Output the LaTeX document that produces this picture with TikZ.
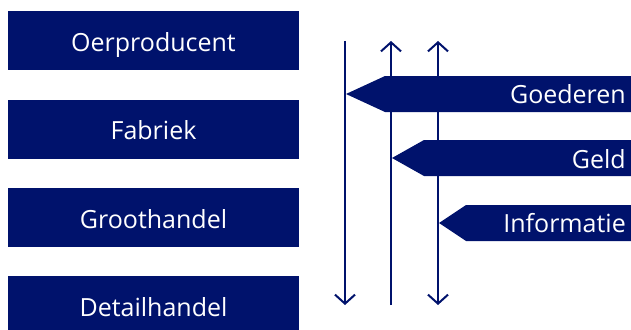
\documentclass[tikz,border=0pt]{standalone}
\usepackage{fontspec}
\setmainfont{Open Sans}
\usetikzlibrary{arrows.meta}
\definecolor{navy}{RGB}{0,18,108}
\begin{document}
\begin{tikzpicture}[x=1pt,y=-1pt,
  box/.style={fill=navy,minimum width=291pt,minimum height=59pt,inner sep=0pt},
  txt/.style={text=white,anchor=base,inner sep=0pt,font=\fontsize{25}{30}\selectfont},
  lbl/.style={text=white,anchor=base east,inner sep=0pt,font=\fontsize{25}{30}\selectfont},
  flow/.style={draw=navy,line width=2pt},
  barb/.tip={Straight Barb[length=9pt,width=20pt,line width=2pt]}]
\useasboundingbox (0,0) rectangle (631,329);
\node[box] (oer) at (153.5,40.5) {};
\node[box] (fab) at (153.5,129) {};
\node[box] (groot) at (153.5,217.5) {};
\node[box] (detail) at (153.5,305.5) {};
\node[txt] (oert) at (153.5,52) {Oerproducent};
\node[txt] (fabt) at (153.5,139.5) {Fabriek};
\node[txt] (groott) at (153.5,228) {Groothandel};
\node[txt] (detailt) at (153.5,316) {Detailhandel};
% arrow-shaped banners
\fill[navy] (346,94) -- (385,76) -- (640,76) -- (640,112) -- (385,112) -- cycle;
\fill[navy] (392,158) -- (424,140) -- (640,140) -- (640,176) -- (424,176) -- cycle;
\fill[navy] (439,223) -- (466,205) -- (640,205) -- (640,241) -- (466,241) -- cycle;
\node[lbl] (goed) at (626,103) {Goederen};
\node[lbl] (geld) at (626,168) {Geld};
\node[lbl] (info) at (626,232) {Informatie};
% vertical flows
\coordinate (a1) at (345,41);
\coordinate (a2) at (345,305);
\coordinate (b1) at (391,305);
\coordinate (b2) at (391,41);
\coordinate (c1) at (438,41);
\coordinate (c2) at (438,305);
\draw[flow,-barb] (a1) -- (a2);
\draw[flow,-barb] (b1) -- (b2);
\draw[flow,barb-barb] (c1) -- (c2);
\end{tikzpicture}
\end{document}
